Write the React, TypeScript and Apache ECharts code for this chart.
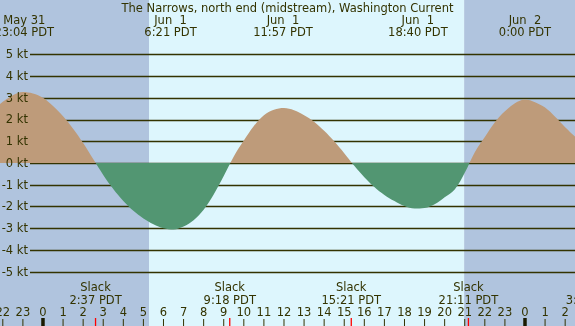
import { useEffect, useRef } from "react";
import * as echarts from "echarts";

// hours are counted from Jun 1 00:00 PDT
const xStart = -2.14;
const xEnd = 26.49;
const hourTicks = [-2, -1, 0, 1, 2, 3, 4, 5, 6, 7, 8, 9, 10, 11, 12, 13, 14, 15, 16, 17, 18, 19, 20, 21, 22, 23, 24, 25, 26];
const midnightHours = [0, 24];
const knotTicks = [-5, -4, -3, -2, -1, 0, 1, 2, 3, 4, 5];

// current speed (kt), every half hour
const flowHours = [
  -2.14, -1.5, -1.0, -0.5, 0.0, 0.5, 1.0, 1.5, 2.0, 2.5,
  3.0, 3.5, 4.0, 4.5, 5.0, 5.5, 6.0, 6.5, 7.0, 7.5, 8.0, 8.5, 9.0,
  9.5, 10.0, 10.5, 11.0, 11.5, 12.0, 12.5, 13.0, 13.5, 14.0, 14.5, 15.0,
  15.5, 16.0, 16.5, 17.0, 17.5, 18.0, 18.5, 19.0, 19.5, 20.0, 20.5, 21.0,
  21.5, 22.0, 22.5, 23.0, 23.5, 24.0, 24.5, 25.0, 25.5, 26.0, 26.49,
];
const flowKnots = [
  2.72, 3.12, 3.27, 3.2, 3.0, 2.62, 2.15, 1.58, 0.92, 0.18,
  -0.55, -1.2, -1.75, -2.2, -2.55, -2.82, -3.0, -3.06, -2.92, -2.63, -2.15, -1.45, -0.6,
  0.3, 1.03, 1.7, 2.2, 2.45, 2.53, 2.43, 2.2, 1.9, 1.48, 1.0, 0.45,
  -0.13, -0.65, -1.1, -1.47, -1.75, -1.98, -2.09, -2.07, -1.9, -1.58, -1.22, -0.45,
  0.5, 1.2, 1.88, 2.38, 2.75, 2.92, 2.8, 2.55, 2.13, 1.65, 1.22,
];

const slackHours = [2.617, 9.3, 15.35, 21.183, 27.33];
const slackTimes = ["2:37 PDT", "9:18 PDT", "15:21 PDT", "21:11 PDT", "3:20 PDT"];

const peakHours = [-0.933, 6.35, 11.95, 18.667, 24.0];
const peakDates = ["May 31", "Jun  1", "Jun  1", "Jun  1", "Jun  2"];
const peakTimes = ["23:04 PDT", "6:21 PDT", "11:57 PDT", "18:40 PDT", "0:00 PDT"];

const bandStarts = [-2.14, 5.28, 20.97];
const bandEnds = [5.28, 20.97, 26.49];
const bandIsDay = [false, true, false];

const TITLE = "The Narrows, north end (midstream), Washington Current";

const FONT = "DejaVu Sans";
const FS = 11.5;
const INK = "#333300";
const NIGHT = "#b0c4de";
const DAY = "#ddf6fd";
const FLOOD = "#be9b7a";
const EBB = "#529672";
const GRIDLINE_LEFT = 30;

export default function App() {
  const ref = useRef<HTMLDivElement>(null);
  useEffect(() => {
    if (!ref.current) return;
    const chart = echarts.init(ref.current, null, { renderer: "svg" });
    const hourLabel = (v: number) => String(((Math.round(v) % 24) + 24) % 24);
    const txt = { fontFamily: FONT, fontSize: FS, fill: INK, align: "center" };

    const tickSeries = (hours: number[], color: string, width: number, len: number, z: number, label?: (i: number, v: number) => string, labelY?: (H: number) => number, lh?: number) => ({
      type: "custom",
      xAxisIndex: 0,
      yAxisIndex: 0,
      z,
      silent: true,
      clip: false,
      data: hours.map((h) => [h]),
      renderItem: (params: any, api: any) => {
        const x = api.coord([api.value(0), 0])[0];
        const H = api.getHeight();
        const children: any[] = [];
        if (len > 0) {
          children.push({ type: "line", shape: { x1: x, y1: H - len, x2: x, y2: H }, style: { stroke: color, lineWidth: width } });
        }
        if (label && labelY) {
          children.push({ type: "text", x, y: labelY(H), style: { ...txt, lineHeight: lh, text: label(params.dataIndex, api.value(0)), verticalAlign: "bottom" } });
        }
        return { type: "group", children };
      },
    });

    const option: any = {
      animation: false,
      title: {
        text: TITLE,
        left: "center",
        top: 1.5,
        padding: 0,
        textStyle: { fontFamily: FONT, fontSize: FS, fontWeight: "normal", color: INK },
      },
      grid: [
        { left: 0, right: 0, top: 0, bottom: 0, outerBoundsMode: "none", containLabel: false },
        { left: GRIDLINE_LEFT, right: 0, top: 54.3, bottom: 54.5, outerBoundsMode: "none", containLabel: false },
      ],
      xAxis: [
        { type: "value", gridIndex: 0, min: xStart, max: xEnd, show: false },
        { type: "value", gridIndex: 1, min: xStart, max: xEnd, show: false },
      ],
      yAxis: [
        { type: "value", gridIndex: 0, min: -7.5, max: 7.5, show: false },
        {
          type: "value",
          gridIndex: 1,
          min: -5,
          max: 5,
          interval: 1,
          z: 20,
          axisLine: { show: false },
          axisTick: { show: false },
          splitLine: { show: false },
          axisLabel: {
            margin: 2,
            formatter: (v: number) => `${v} kt`,
            fontFamily: FONT,
            fontSize: FS,
            color: INK,
          },
        },
      ],
      visualMap: {
        type: "piecewise",
        show: false,
        seriesIndex: 2,
        dimension: 1,
        pieces: [
          { gt: -10, lte: 0, color: EBB },
          { gt: 0, lte: 10, color: FLOOD },
        ],
        outOfRange: { color: EBB },
      },
      series: [
        {
          type: "custom",
          xAxisIndex: 0,
          yAxisIndex: 0,
          z: 1,
          silent: true,
          data: bandStarts.map((s, i) => [s, bandEnds[i], bandIsDay[i] ? 1 : 0]),
          renderItem: (_p: any, api: any) => {
            const x0 = api.coord([api.value(0), 0])[0];
            const x1 = api.coord([api.value(1), 0])[0];
            return { type: "rect", shape: { x: x0, y: 0, width: x1 - x0, height: api.getHeight() }, style: { fill: api.value(2) ? DAY : NIGHT } };
          },
        },
        {
          type: "custom",
          xAxisIndex: 0,
          yAxisIndex: 0,
          z: 2,
          silent: true,
          clip: false,
          data: knotTicks.map((k) => [0, k]),
          renderItem: (_p: any, api: any) => {
            const y = Math.round(api.coord([0, api.value(1)])[1]) + 0.5;
            return { type: "line", shape: { x1: GRIDLINE_LEFT, y1: y, x2: api.getWidth(), y2: y }, style: { stroke: INK, lineWidth: 1.3 } };
          },
        },
        {
          type: "line",
          xAxisIndex: 0,
          yAxisIndex: 0,
          z: 5,
          smooth: 0.35,
          symbol: "none",
          silent: true,
          data: flowHours.map((h, i) => [h, flowKnots[i]]),
          lineStyle: { width: 0, opacity: 0 },
          areaStyle: { opacity: 1 },
        },
        tickSeries(hourTicks, INK, 1, 7, 6, (_i, v) => hourLabel(v), (H) => H - 8.5, 11),
        tickSeries(midnightHours, "#1a1a00", 3.5, 8, 7),
        tickSeries(slackHours, "#ff0000", 1.3, 8, 8, (i) => `Slack\n${slackTimes[i]}`, (H) => H - 20, 12.5),
        {
          type: "custom",
          xAxisIndex: 0,
          yAxisIndex: 0,
          z: 8,
          silent: true,
          clip: false,
          data: peakHours.map((h) => [h]),
          renderItem: (params: any, api: any) => {
            const x = api.coord([api.value(0), 0])[0];
            const i = params.dataIndex;
            return { type: "text", x, y: 14, style: { ...txt, lineHeight: 12, text: `${peakDates[i]}\n${peakTimes[i]}`, verticalAlign: "top" } };
          },
        },
      ],
    };
    chart.setOption(option);
    return () => chart.dispose();
  }, []);
  return <div ref={ref} style={{ position: "fixed", left: 0, top: 0, width: 575, height: 326 }} />;
}
